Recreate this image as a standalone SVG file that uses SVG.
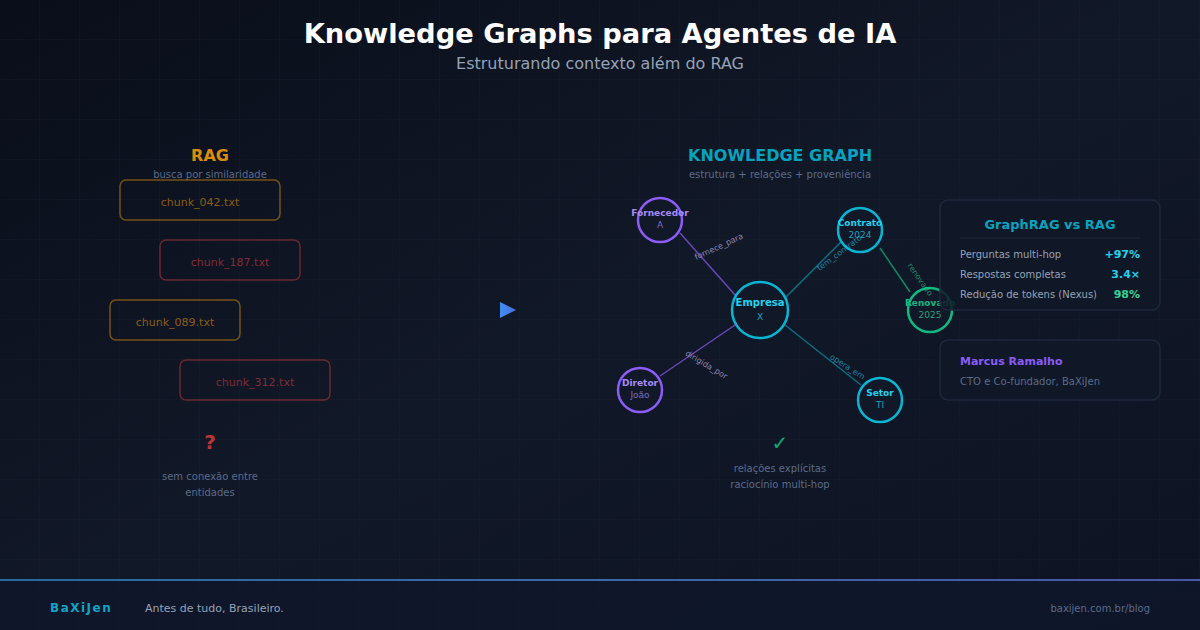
<svg xmlns="http://www.w3.org/2000/svg" width="1200" height="630" viewBox="0 0 1200 630">
<defs>
<linearGradient id="bg" x1="0" y1="0" x2="1" y2="1">
<stop offset="0" stop-color="#0a0e1a"/>
<stop offset="0.5" stop-color="#111827"/>
<stop offset="1" stop-color="#0d1322"/>
</linearGradient>
<pattern id="grid" width="40" height="40" patternUnits="userSpaceOnUse">
<path d="M40 0 V40 M0 40 H40" fill="none" stroke="#1e293b" stroke-width="1" opacity="0.35"/>
</pattern>
<linearGradient id="foot" x1="0" y1="0" x2="1" y2="0">
<stop offset="0" stop-color="#2b6a9e"/>
<stop offset="0.5" stop-color="#3a68a8"/>
<stop offset="1" stop-color="#4a56a8"/>
</linearGradient>
<linearGradient id="tri" x1="0" y1="0" x2="1" y2="0">
<stop offset="0" stop-color="#3b8ff0"/>
<stop offset="1" stop-color="#4f6fe0"/>
</linearGradient>
<style>
text{font-family:"DejaVu Sans",Verdana,sans-serif}
.muted{fill:#5b6b8a;font-size:10px}
.chunkA rect{fill:none;stroke:#f59e0b;stroke-opacity:0.45;stroke-width:1.5}
.chunkA text{fill:#f59e0b;fill-opacity:0.55;font-size:11px;text-anchor:middle}
.chunkR rect{fill:none;stroke:#ef4444;stroke-opacity:0.4;stroke-width:1.5}
.chunkR text{fill:#ef4444;fill-opacity:0.5;font-size:11px;text-anchor:middle}
.node circle{fill:#111827;stroke-width:2.5}
.node .n{font-size:9px;font-weight:bold;text-anchor:middle}
.node .s{font-size:9px;text-anchor:middle}
.purple circle{stroke:#8b5cf6}
.purple .n{fill:#a78bfa}
.purple .s{fill:#a78bfa;fill-opacity:0.75}
.cyan circle{stroke:#06b6d4}
.cyan .n{fill:#22d3ee}
.cyan .s{fill:#22d3ee;fill-opacity:0.75}
.green circle{stroke:#10b981}
.green .n{fill:#10b981}
.green .s{fill:#34d399;fill-opacity:0.75}
.edge{stroke-width:1.5;fill:none}
.elab{font-size:8px;text-anchor:middle}
.panel{fill:#111827;fill-opacity:0.85;stroke:#1e293b;stroke-width:1.5}
.row{fill:#94a3b8;font-size:10px}
.val{font-size:11px;font-weight:bold;text-anchor:end}
</style>
</defs>
<rect width="1200" height="630" fill="url(#bg)"/>
<rect width="1200" height="630" fill="url(#grid)"/>

<g id="header">
<text x="600" y="43" text-anchor="middle" font-size="27.3" font-weight="bold" fill="#ffffff">Knowledge Graphs para Agentes de IA</text>
<text x="600" y="69" text-anchor="middle" font-size="16" fill="#94a3b8">Estruturando contexto além do RAG</text>
</g>

<g id="rag-side">
<text x="210" y="161" text-anchor="middle" font-size="16" font-weight="bold" fill="#f59e0b" fill-opacity="0.9">RAG</text>
<text x="210" y="178" text-anchor="middle" class="muted">busca por similaridade</text>
</g>
<g id="chunk-042" class="chunkA"><rect x="120" y="180" width="160" height="40" rx="6"/><text x="200" y="206">chunk_042.txt</text></g>
<g id="chunk-187" class="chunkR"><rect x="160" y="240" width="140" height="40" rx="6"/><text x="230" y="266">chunk_187.txt</text></g>
<g id="chunk-089" class="chunkA"><rect x="110" y="300" width="130" height="40" rx="6"/><text x="175" y="326">chunk_089.txt</text></g>
<g id="chunk-312" class="chunkR"><rect x="180" y="360" width="150" height="40" rx="6"/><text x="255" y="386">chunk_312.txt</text></g>
<g id="rag-note">
<text x="210" y="449" text-anchor="middle" font-size="20" font-weight="bold" fill="#dc3a3a" fill-opacity="0.85">?</text>
<text x="210" y="480" text-anchor="middle" class="muted">sem conexão entre</text>
<text x="210" y="496" text-anchor="middle" class="muted">entidades</text>
</g>

<g id="arrow"><path d="M500 302 L516 310 L500 318 Z" fill="url(#tri)"/></g>

<g id="kg-header">
<text x="780" y="161" text-anchor="middle" font-size="16" font-weight="bold" fill="#06b6d4" fill-opacity="0.9">KNOWLEDGE GRAPH</text>
<text x="780" y="178" text-anchor="middle" class="muted">estrutura + relações + proveniência</text>
</g>

<g id="connectors">
<line class="edge" x1="680" y1="233" x2="736" y2="296" stroke="#8b5cf6" stroke-opacity="0.7"/>
<line class="edge" x1="786" y1="297" x2="841" y2="242" stroke="#06b6d4" stroke-opacity="0.55"/>
<line class="edge" x1="880" y1="248" x2="910" y2="292" stroke="#10b981" stroke-opacity="0.7"/>
<line class="edge" x1="735" y1="325" x2="660" y2="376" stroke="#8b5cf6" stroke-opacity="0.7"/>
<line class="edge" x1="785" y1="325" x2="861" y2="385" stroke="#06b6d4" stroke-opacity="0.55"/>
</g>

<g id="node-fornecedor" class="node purple"><circle cx="660" cy="220" r="22"/><text class="n" x="660" y="216">Fornecedor</text><text class="s" x="660" y="228">A</text></g>
<g id="node-contrato" class="node cyan"><circle cx="860" cy="230" r="22"/><text class="n" x="860" y="226">Contrato</text><text class="s" x="860" y="238">2024</text></g>
<g id="node-renovado" class="node green"><circle cx="930" cy="310" r="22"/><text class="n" x="930" y="306">Renovado</text><text class="s" x="930" y="318">2025</text></g>
<g id="node-empresa" class="node cyan"><circle cx="760" cy="310" r="28"/><text class="n" x="760" y="306" style="font-size:10px">Empresa</text><text class="s" x="760" y="320">X</text></g>
<g id="node-diretor" class="node purple"><circle cx="640" cy="390" r="22"/><text class="n" x="640" y="386">Diretor</text><text class="s" x="640" y="398">João</text></g>
<g id="node-setor" class="node cyan"><circle cx="880" cy="400" r="22"/><text class="n" x="880" y="396">Setor</text><text class="s" x="880" y="408">TI</text></g>

<g id="edge-labels">
<text class="elab" transform="translate(720,249) rotate(-25)" fill="#b4a6d8" fill-opacity="0.8">fornece_para</text>
<text class="elab" transform="translate(841,255) rotate(-37)" fill="#22d3ee" fill-opacity="0.6">tem_contrato</text>
<text class="elab" transform="translate(918,281) rotate(55)" fill="#34d399" fill-opacity="0.6">renovado</text>
<text class="elab" transform="translate(705,367) rotate(31)" fill="#b4a6d8" fill-opacity="0.8">dirigida_por</text>
<text class="elab" transform="translate(846,369) rotate(33)" fill="#22d3ee" fill-opacity="0.6">opera_em</text>
</g>

<g id="kg-note">
<text x="780" y="450" text-anchor="middle" font-size="20" fill="#10b981" fill-opacity="0.9">✓</text>
<text x="780" y="472" text-anchor="middle" class="muted">relações explícitas</text>
<text x="780" y="488" text-anchor="middle" class="muted">raciocínio multi-hop</text>
</g>

<g id="stats-panel">
<rect class="panel" x="940" y="200" width="220" height="110" rx="8"/>
<text x="1050" y="229" text-anchor="middle" font-size="13" font-weight="bold" fill="#06b6d4" fill-opacity="0.9">GraphRAG vs RAG</text>
<line x1="960" y1="238" x2="1140" y2="238" stroke="#1e293b" stroke-width="1"/>
<text class="row" x="960" y="258">Perguntas multi-hop</text>
<text class="val" x="1140" y="258" fill="#22d3ee">+97%</text>
<text class="row" x="960" y="278">Respostas completas</text>
<text class="val" x="1140" y="278" fill="#22d3ee">3.4×</text>
<text class="row" x="960" y="298">Redução de tokens (Nexus)</text>
<text class="val" x="1140" y="298" fill="#34d399">98%</text>
</g>

<g id="author-panel">
<rect class="panel" x="940" y="340" width="220" height="60" rx="8"/>
<text x="960" y="365" font-size="11" font-weight="bold" fill="#8b5cf6">Marcus Ramalho</text>
<text x="960" y="385" font-size="10" fill="#5b6b8a">CTO e Co-fundador, BaXiJen</text>
</g>

<g id="footer">
<rect x="0" y="580" width="1200" height="50" fill="#0f172a" fill-opacity="0.8"/>
<rect x="0" y="579" width="1200" height="2" fill="url(#foot)"/>
<text x="50" y="612" font-size="12" font-weight="bold" fill="#0ea5c6" letter-spacing="1.5">BaXiJen</text>
<text x="145" y="612" font-size="11" fill="#94a3b8">Antes de tudo, Brasileiro.</text>
<text x="1150" y="612" text-anchor="end" font-size="10" fill="#5b6b8a">baxijen.com.br/blog</text>
</g>
</svg>
